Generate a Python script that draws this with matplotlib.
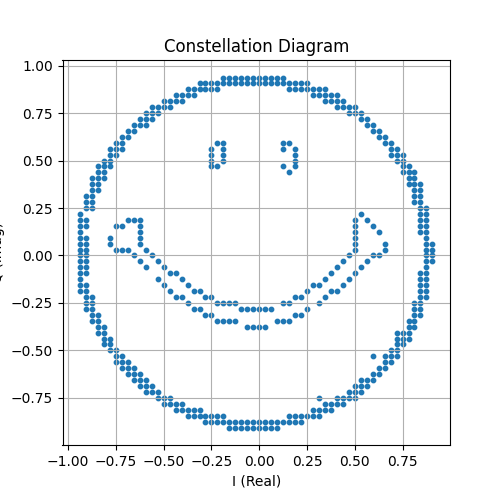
import matplotlib
matplotlib.use('Agg')
import matplotlib.pyplot as plt
import numpy as np

# grid step of the constellation points
step = 1 / 32

# outline circle: (row, first column, last column) spans on the 1/32 grid
ring_spans = [
    (30, -6, 4), (29, -10, 8),
    (28, -12, -7), (28, 5, 11), (27, -14, -11), (27, 9, 13),
    (26, -16, -13), (26, 11, 14), (25, -18, -15), (25, 13, 16),
    (24, -19, -17), (24, 15, 17), (23, -20, -18), (23, 17, 18),
    (22, -21, -19), (22, 18, 19), (21, -22, -21), (21, 19, 20),
    (20, -23, -22), (20, 20, 21), (19, -24, -23), (19, 21, 22),
    (18, -25, -23), (18, 22, 23), (17, -25, -24), (17, 22, 24),
    (16, -26, -25), (16, 23, 24), (15, -27, -25), (15, 24, 25),
    (14, -27, -26), (14, 24, 26), (13, -28, -26), (13, 25, 26),
    (12, -28, -27), (12, 25, 27), (11, -28, -27), (11, 26, 27),
    (10, -29, -28), (10, 26, 27), (9, -29, -28), (9, 26, 27),
    (8, -29, -28), (8, 27, 28), (7, -30, -30), (7, 27, 28),
    (6, -30, -29), (6, 27, 28), (5, -30, -29), (5, 27, 28),
    (4, -30, -30), (4, 27, 28), (3, -30, -29), (3, 28, 28),
    (2, -30, -29), (2, 28, 29), (1, -30, -29), (1, 28, 29),
    (0, -30, -29), (0, 28, 29), (-1, -30, -29), (-1, 28, 29),
    (-2, -30, -29), (-2, 28, 28), (-3, -30, -29), (-3, 27, 28),
    (-4, -30, -30), (-4, 27, 28), (-5, -30, -29), (-5, 27, 28),
    (-6, -30, -29), (-6, 27, 28), (-7, -29, -28), (-7, 27, 28),
    (-8, -29, -28), (-8, 26, 27), (-9, -29, -28), (-9, 26, 27),
    (-10, -28, -27), (-10, 26, 27), (-11, -28, -27), (-11, 25, 26),
    (-12, -27, -26), (-12, 25, 26), (-13, -27, -26), (-13, 23, 25),
    (-14, -26, -25), (-14, 23, 25), (-15, -26, -25), (-15, 23, 24),
    (-16, -25, -24), (-16, 22, 23), (-17, -24, -23), (-17, 19, 19),
    (-17, 21, 23), (-18, -24, -22), (-18, 21, 22), (-19, -23, -21),
    (-19, 20, 21), (-20, -22, -20), (-20, 19, 20), (-21, -21, -19),
    (-21, 17, 19), (-22, -20, -18), (-22, 16, 18), (-23, -19, -17),
    (-23, 15, 17), (-24, -17, -15), (-24, 10, 10), (-24, 13, 16),
    (-25, -16, -13), (-25, 11, 14), (-26, -14, -10), (-26, 9, 12),
    (-27, -12, -6), (-27, 5, 10), (-28, -9, 7), (-29, -5, 3),
]

# eyes: (row, column)
eye_points = [
    (19, -7), (19, -6), (18, -8), (18, -6), (17, -8), (17, -6),
    (16, -8), (16, -6), (15, -8), (15, -7),
    (19, 4), (19, 5), (18, 4), (18, 6), (17, 6), (16, 6),
    (15, 4), (15, 6), (14, 5),
]

# mouth: hooks at the ends plus outer and inner curves, (row, first, last)
mouth_spans = [
    # left hook
    (6, -22, -20), (5, -24, -23), (5, -20, -20), (4, -20, -20),
    (3, -25, -25), (3, -20, -20), (2, -25, -25), (2, -20, -20),
    (1, -24, -22), (1, -19, -19), (0, -21, -21), (0, -18, -18),
    # left half of the curves
    (-1, -20, -20), (-1, -17, -17), (-2, -19, -19), (-2, -16, -16),
    (-3, -15, -14), (-4, -17, -17), (-4, -13, -13),
    (-5, -16, -16), (-5, -12, -12), (-6, -15, -15), (-6, -11, -10),
    (-7, -14, -13), (-7, -9, -8), (-8, -12, -12), (-8, -7, -4),
    (-9, -11, -10), (-9, -3, 2), (-10, -9, -8), (-11, -7, -4),
    (-12, -2, 1),
    # right half of the curves
    (-11, 3, 5), (-10, 6, 7), (-9, 8, 8), (-8, 4, 5), (-8, 10, 10),
    (-7, 6, 7), (-7, 11, 11), (-6, 8, 8), (-6, 12, 13),
    (-5, 9, 10), (-5, 14, 14), (-4, 11, 11), (-4, 15, 15),
    (-3, 12, 12), (-3, 16, 16), (-2, 13, 13), (-2, 17, 17),
    (-1, 14, 14), (-1, 18, 18),
    # right hook
    (0, 15, 15), (0, 19, 20), (1, 16, 16), (1, 21, 21),
    (2, 16, 16), (2, 21, 21), (3, 16, 16), (4, 16, 16), (4, 20, 20),
    (5, 16, 16), (5, 19, 19), (6, 16, 16), (6, 18, 18), (7, 17, 17),
]

rows, cols = [], []
for r, c0, c1 in ring_spans + mouth_spans:
    for c in range(c0, c1 + 1):
        rows.append(r)
        cols.append(c)
for r, c in eye_points:
    rows.append(r)
    cols.append(c)

i_vals = np.array(cols) * step
q_vals = np.array(rows) * step

fig = plt.figure(figsize=(5, 5), dpi=100)
plt.scatter(i_vals, q_vals, s=10, color='tab:blue')
plt.title('Constellation Diagram')
plt.xlabel('I (Real)')
plt.ylabel('Q (Imag)')
plt.grid(True)
plt.savefig('out.png')
plt.close()
